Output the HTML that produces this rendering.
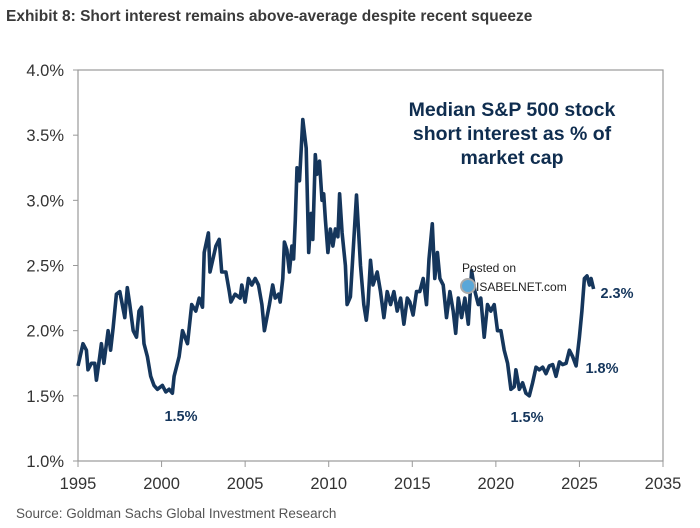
<!DOCTYPE html>
<html><head><meta charset="utf-8"><style>
html,body{margin:0;padding:0;background:#fff;}
body{width:700px;height:523px;overflow:hidden;font-family:"Liberation Sans",sans-serif;}
</style></head><body>
<svg width="700" height="523" viewBox="0 0 700 523" xmlns="http://www.w3.org/2000/svg">
<text x="6" y="21" font-size="15.5" font-weight="bold" fill="#3a3a3a">Exhibit 8: Short interest remains above-average despite recent squeeze</text>
<rect x="78" y="70" width="585" height="391" fill="none" stroke="#999" stroke-width="1.2"/>
<g id="yaxis"></g>
<g id="xaxis"></g>
<path id="line" fill="none" stroke="#15365c" stroke-width="3.6" stroke-linejoin="round"/>
<g font-size="19.5" font-weight="bold" fill="#0f2d4f" text-anchor="middle">
<text x="512" y="116">Median S&amp;P 500 stock</text>
<text x="512" y="140">short interest as % of</text>
<text x="512" y="164">market cap</text>
</g>
<g font-size="14.5" font-weight="bold" fill="#15365c" text-anchor="middle">
<text x="181" y="421">1.5%</text>
<text x="527" y="422">1.5%</text>
<text x="602" y="373">1.8%</text>
<text x="617" y="298">2.3%</text>
</g>
<g font-size="12" fill="#222">
<text x="462" y="272">Posted on</text>
<circle cx="468" cy="286" r="7" fill="#5aa7d8" stroke="#aaa" stroke-width="2"/>
<text x="476" y="291">ISABELNET.com</text>
</g>
<text x="16" y="518" font-size="13.5" fill="#555">Source: Goldman Sachs Global Investment Research</text>
</svg>
<script>
const years=[1995.0,1995.3,1995.5,1995.6,1995.8,1996.0,1996.1,1996.3,1996.4,1996.55,
1996.8,1996.95,1997.1,1997.3,1997.5,1997.65,1997.8,1997.95,1998.1,1998.3,
1998.5,1998.65,1998.8,1998.95,1999.15,1999.35,1999.55,1999.75,2000.05,2000.25,
2000.45,2000.65,2000.75,2001.05,2001.25,2001.55,2001.8,2002.05,2002.25,2002.45,
2002.55,2002.8,2002.9,2003.25,2003.45,2003.6,2003.85,2004.05,2004.15,2004.4,
2004.7,2004.8,2005.0,2005.2,2005.4,2005.6,2005.8,2006.0,2006.15,2006.3,
2006.45,2006.65,2006.8,2007.0,2007.1,2007.25,2007.35,2007.5,2007.65,2007.8,
2007.9,2008.0,2008.1,2008.25,2008.45,2008.65,2008.8,2008.95,2009.05,2009.2,
2009.3,2009.45,2009.6,2009.7,2009.8,2009.95,2010.1,2010.25,2010.4,2010.55,
2010.65,2010.8,2011.0,2011.1,2011.3,2011.66,2011.9,2012.1,2012.25,2012.35,
2012.5,2012.65,2012.9,2013.1,2013.3,2013.5,2013.7,2013.9,2014.1,2014.3,
2014.5,2014.7,2014.85,2015.05,2015.25,2015.45,2015.65,2015.85,2016.0,2016.2,
2016.35,2016.5,2016.65,2016.85,2017.05,2017.25,2017.45,2017.6,2017.75,2017.95,
2018.15,2018.35,2018.55,2018.75,2018.95,2019.1,2019.3,2019.5,2019.7,2019.9,
2020.1,2020.3,2020.5,2020.7,2020.9,2021.1,2021.2,2021.4,2021.6,2021.8,
2022.0,2022.2,2022.4,2022.6,2022.8,2023.0,2023.2,2023.4,2023.6,2023.8,
2024.0,2024.2,2024.4,2024.6,2024.8,2025.0,2025.15,2025.3,2025.45,2025.6,
2025.7,2025.85];
const values=[1.73,1.9,1.85,1.7,1.75,1.75,1.62,1.8,1.9,1.75,
2.0,1.85,2.02,2.28,2.3,2.2,2.1,2.33,2.2,2.0,
1.95,2.15,2.18,1.9,1.8,1.65,1.58,1.55,1.58,1.53,
1.55,1.52,1.65,1.8,2.0,1.9,2.2,2.15,2.25,2.18,
2.6,2.75,2.45,2.65,2.7,2.45,2.45,2.3,2.22,2.28,
2.25,2.35,2.22,2.4,2.35,2.4,2.35,2.2,2.0,2.1,
2.2,2.35,2.25,2.28,2.22,2.4,2.68,2.62,2.45,2.65,
2.55,2.85,3.25,3.15,3.62,3.4,2.6,2.9,2.7,3.35,
3.2,3.3,3.0,3.05,2.85,2.6,2.78,2.65,2.78,2.72,
3.05,2.75,2.5,2.2,2.26,3.04,2.5,2.2,2.08,2.2,
2.54,2.35,2.45,2.3,2.1,2.3,2.2,2.3,2.15,2.25,
2.05,2.25,2.22,2.12,2.3,2.3,2.4,2.2,2.55,2.82,
2.4,2.6,2.4,2.35,2.1,2.3,2.15,1.98,2.25,2.1,
2.25,2.05,2.46,2.3,2.2,2.25,1.95,2.2,2.15,2.2,
2.0,2.0,1.85,1.75,1.55,1.57,1.7,1.55,1.6,1.52,
1.5,1.6,1.72,1.7,1.72,1.67,1.73,1.74,1.65,1.76,
1.74,1.75,1.85,1.8,1.73,1.95,2.15,2.4,2.42,2.35,
2.4,2.32];
const yTicks=[1.0,1.5,2.0,2.5,3.0,3.5,4.0];
const xTickLabels=["1995","2000","2005","2010","2015","2020","2025","2035"];
const X0=78,X1=663,Y0=461,Y1=70;
function xs(yr){return X0+(yr-1995)/35*(X1-X0);}
function ys(v){return Y0-(v-1)/3*(Y0-Y1);}
const NS="http://www.w3.org/2000/svg";
const ya=document.getElementById('yaxis'),xa=document.getElementById('xaxis');
yTicks.forEach(v=>{
 const t=document.createElementNS(NS,'text');
 t.setAttribute('x',64);t.setAttribute('y',ys(v)+6);t.setAttribute('text-anchor','end');
 t.setAttribute('font-size','16.5');t.setAttribute('fill','#333');
 t.textContent=v.toFixed(1)+'%';
 
 
 ya.appendChild(t);
 const l=document.createElementNS(NS,'line');
 l.setAttribute('x1',73);l.setAttribute('x2',78);l.setAttribute('y1',ys(v));l.setAttribute('y2',ys(v));l.setAttribute('stroke','#999');
 
 
 ya.appendChild(l);
});
xTickLabels.forEach((lab,i)=>{
 const x=xs(1995+i*5);
 const l=document.createElementNS(NS,'line');
 l.setAttribute('x1',x);l.setAttribute('x2',x);l.setAttribute('y1',461);l.setAttribute('y2',467);l.setAttribute('stroke','#999');
 
 
 xa.appendChild(l);
 const t=document.createElementNS(NS,'text');
 t.setAttribute('x',x);t.setAttribute('y',489);t.setAttribute('text-anchor','middle');
 t.setAttribute('font-size','16.5');t.setAttribute('fill','#333');
 t.textContent=lab;
 
 
 xa.appendChild(t);
});
const n=Math.min(years.length,values.length);
let d='';
for(let i=0;i<n;i++){d+=(i?'L':'M')+xs(years[i]).toFixed(1)+','+ys(values[i]).toFixed(1);}
document.getElementById('line').setAttribute('d',d);
</script>
</body></html>
